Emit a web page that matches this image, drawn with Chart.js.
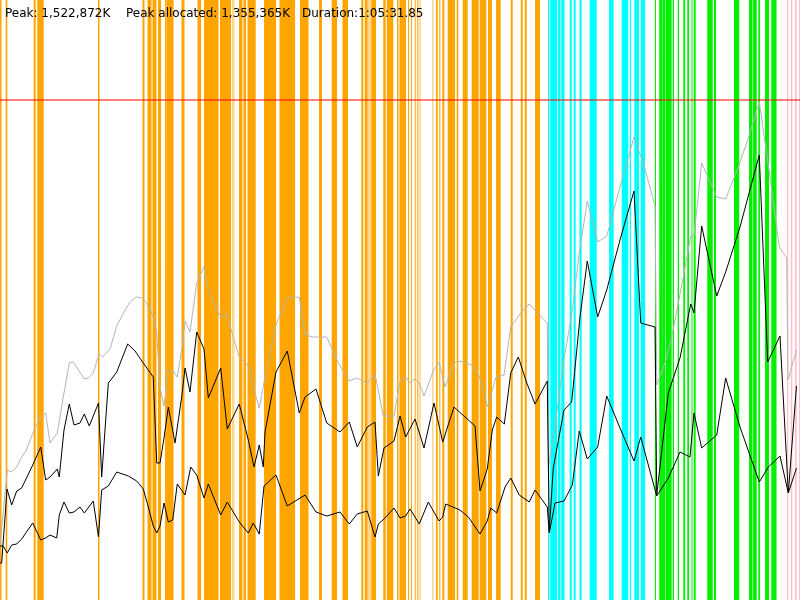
<!DOCTYPE html>
<html>
<head>
<meta charset="utf-8">
<script src="https://cdn.jsdelivr.net/npm/chart.js@4.4.1/dist/chart.umd.min.js"></script>
<style>
html,body{margin:0;padding:0;background:#ffffff;}
#wrap{position:relative;width:800px;height:600px;overflow:hidden;}
#c{position:absolute;left:0;top:0;}
#title{position:absolute;left:0;top:6px;width:800px;height:14px;font-family:"DejaVu Sans",sans-serif;font-size:12px;line-height:14px;color:#000;white-space:pre;pointer-events:none;}
#title span{position:absolute;top:0;}
</style>
</head>
<body>
<div id="wrap">
  <canvas id="c" width="800" height="600"></canvas>
  <div id="title"></div>
</div>
<script>
// ---- header texts ----
const headerTexts = ["Peak: 1,522,872K", "Peak allocated: 1,355,365K", "Duration:1:05:31.85"];

// x = % of run duration, y = % of peak memory (1,522,872K = 100)
const peakLimit = 100;

// event stripes: [start %, end %] of run duration
const orangeEvents = [[0,0.19],[0.71,0.91],[4.21,4.46],[4.66,5.46],[12.25,12.44],[17.81,18.06],[18.44,18.94],[19.06,19.56],[19.75,20.13],[20.63,20.75],[20.81,21.69],[22.69,23.06],[24.69,25.13],[25.5,27.31],[27.5,28.88],[29.88,30.31],[30.44,30.75],[30.94,31.96],[33.0,34.5],[34.94,36.88],[37.5,38.56],[39.88,40.25],[41.46,42.13],[42.81,43.5],[45.16,45.41],[45.59,45.96],[46.41,47.0],[47.91,48.21],[48.34,49.16],[49.63,49.81],[49.94,50.75],[51.0,51.13],[51.38,51.5],[51.84,51.96],[52.16,52.29],[54.5,54.71],[54.91,55.04],[55.29,55.54],[55.96,56.88],[57.09,57.29],[57.84,58.46],[58.96,59.84],[59.96,60.79],[61.0,61.5],[62.0,62.59],[63.84,64.09],[65.09,65.34],[65.59,65.84],[66.88,67.5]];
const paleOrangeEvents = [[29.0,29.31],[46.0,46.38],[52.38,52.59],[54.0,54.21]];
const cyanEvents = [[68.5,68.66],[68.79,69.63],[69.75,70.06],[70.16,70.56],[71.21,71.46],[71.71,71.96],[72.44,72.71],[73.71,74.59],[76.13,76.71],[77.71,78.53],[78.71,78.88],[79.29,79.88],[80.09,80.66]];
const greenEvents = [[81.84,82.0],[82.41,82.75],[82.81,83.19],[83.25,83.96],[84.09,84.25],[84.71,84.88],[85.41,85.63],[85.91,86.13],[86.44,86.56],[86.71,86.96],[88.41,89.09],[89.25,89.5],[91.75,92.41],[93.63,94.06],[94.13,94.59],[94.79,95.0],[95.63,96.13],[96.41,97.09]];
const pinkEvents = [[98.34,98.54],[98.84,99.04],[99.38,99.59],[99.88,100]];

// memory series: [time %, memory % of peak]
const peakSeries = [[0,10.8],[0.91,26.0],[1.46,25.6],[2.09,26.6],[2.71,28.6],[3.25,29.8],[4.16,33.6],[5.0,36.4],[5.71,37.4],[6.25,31.4],[7.16,33.4],[7.91,40.6],[8.66,47.4],[9.16,47.6],[9.88,45.8],[10.54,44.2],[11.04,44.4],[11.66,45.4],[12.38,49.2],[12.84,48.6],[13.75,50.2],[14.59,54.8],[15.63,58.0],[16.25,59.6],[17.0,60.6],[17.84,60.4],[18.54,58.8],[19.16,56.6],[19.59,53.6],[20.0,42.6],[20.5,38.8],[21.04,45.8],[21.66,45.8],[22.16,44.6],[22.71,50.0],[23.13,55.8],[23.75,53.6],[24.59,63.4],[25.5,66.6],[25.91,62.6],[26.88,59.0],[27.59,56.6],[28.34,57.2],[29.16,52.6],[29.91,48.6],[30.84,47.2],[31.16,46.6],[31.66,42.6],[32.41,38.4],[33.13,44.6],[34.5,55.0],[35.91,60.4],[37.41,60.6],[38.13,53.0],[39.16,52.6],[40.84,52.6],[42.29,47.4],[43.66,43.8],[44.59,44.4],[45.91,43.4],[46.88,45.2],[47.91,36.8],[49.25,36.8],[50.0,43.8],[50.71,44.6],[51.25,43.4],[51.88,44.2],[52.41,43.4],[53.0,40.8],[54.25,46.2],[54.88,47.6],[55.63,42.6],[56.75,47.4],[57.5,47.8],[58.96,47.0],[59.91,44.8],[60.96,38.6],[62.0,44.6],[63.0,45.0],[63.84,54.6],[65.09,57.4],[66.13,59.2],[68.41,55.4],[68.54,26.4],[69.59,37.4],[70.41,47.4],[71.46,57.0],[72.41,69.4],[73.41,79.8],[74.71,71.6],[75.84,72.8],[77.5,82.6],[79.25,92.6],[80.41,87.4],[81.88,78.8],[82.09,43.0],[83.25,48.0],[84.09,53.6],[85.41,64.6],[86.34,72.8],[86.75,72.8],[87.71,87.4],[89.59,80.6],[90.71,80.2],[92.29,86.6],[93.54,92.4],[94.91,99.6],[96.25,84.6],[97.41,70.6],[98.34,68.4],[98.5,44.0],[99.56,50.0]];

const allocatedSeries = [[0,7.4],[0.21,7.4],[0.88,22.2],[1.46,19.0],[2.09,21.8],[2.71,22.4],[4.09,27.0],[5.09,30.6],[5.71,24.0],[6.25,24.6],[7.16,26.2],[7.41,24.6],[8.0,34.0],[8.66,39.2],[9.25,35.0],[10.0,35.4],[10.54,37.2],[11.16,34.8],[12.31,39.4],[12.71,24.6],[13.54,43.4],[13.75,43.8],[14.59,45.6],[15.96,51.2],[16.88,49.8],[17.91,47.4],[19.16,44.6],[19.59,27.4],[20.0,27.4],[20.5,32.4],[21.04,38.6],[21.88,31.4],[22.71,40.6],[23.13,46.4],[23.75,41.6],[24.59,53.6],[25.5,50.2],[26.04,40.4],[27.59,46.4],[28.41,34.2],[29.91,39.2],[31.04,32.0],[31.75,26.6],[32.41,31.0],[32.91,26.6],[33.13,33.6],[34.5,45.6],[35.91,49.8],[37.41,37.4],[38.13,40.6],[39.5,42.2],[40.84,35.4],[42.5,33.6],[43.66,35.6],[44.66,30.6],[45.91,34.6],[46.88,35.6],[47.29,24.8],[48.0,30.4],[49.25,31.8],[50.0,36.8],[50.71,32.6],[51.88,36.2],[53.0,30.4],[54.25,39.4],[55.34,31.6],[56.75,38.6],[59.38,34.8],[60.0,21.8],[60.91,26.2],[61.54,34.0],[62.09,36.6],[63.04,35.2],[63.84,45.4],[64.79,48.6],[65.84,43.4],[66.88,39.2],[68.41,43.8],[68.66,13.8],[69.16,26.4],[70.5,38.0],[71.46,39.6],[72.5,56.6],[73.41,67.8],[74.71,56.6],[75.84,62.0],[77.5,72.0],[79.25,81.8],[80.09,55.4],[81.88,54.6],[82.09,21.0],[83.54,41.4],[85.0,48.4],[86.34,59.2],[86.75,57.4],[87.71,74.8],[89.59,60.8],[90.71,65.6],[92.5,74.6],[94.91,89.0],[95.96,47.6],[97.5,52.8],[98.54,21.4],[99.56,42.8]];

const liveSeries = [[0,10.8],[0.38,10.8],[0.91,9.4],[1.46,11.0],[2.09,11.2],[2.71,12.2],[4.09,15.4],[5.09,12.0],[5.71,12.4],[6.25,13.0],[7.09,12.4],[7.41,17.0],[8.0,19.6],[8.66,17.4],[9.25,17.6],[10.0,18.6],[10.54,17.4],[11.66,19.8],[12.31,12.6],[12.71,22.0],[13.54,22.8],[14.59,25.6],[16.04,24.8],[17.09,23.8],[17.91,22.2],[18.54,18.6],[19.16,14.8],[19.59,13.4],[20.0,14.8],[20.5,19.4],[21.04,15.6],[21.59,16.0],[22.16,23.2],[23.13,21.0],[23.84,26.6],[24.59,25.0],[25.5,20.4],[26.04,23.2],[27.59,17.0],[28.41,19.6],[29.91,15.6],[31.04,13.4],[31.66,15.4],[32.41,13.2],[33.0,22.8],[34.5,25.0],[35.91,18.8],[38.13,21.0],[39.5,17.6],[40.84,16.8],[42.5,17.6],[43.66,15.2],[44.66,17.2],[45.91,17.8],[46.88,12.6],[47.29,15.2],[48.0,16.2],[49.25,18.4],[50.0,16.4],[50.71,16.8],[51.25,18.2],[52.41,15.2],[53.54,19.6],[54.88,15.8],[55.34,16.6],[55.71,19.2],[57.5,18.0],[58.54,16.6],[60.0,13.2],[60.91,15.8],[61.34,18.4],[62.09,17.4],[63.13,22.6],[63.84,24.4],[64.91,21.0],[66.16,19.6],[66.88,22.0],[68.41,18.6],[68.66,13.4],[69.38,19.4],[70.5,19.8],[71.54,23.0],[72.41,33.8],[73.41,28.2],[74.71,30.6],[75.84,40.8],[77.5,34.4],[79.25,27.8],[80.09,32.6],[82.09,20.8],[83.54,24.4],[85.0,29.6],[86.25,28.6],[86.75,37.4],[87.71,30.4],[89.59,33.0],[90.71,44.4],[92.5,34.6],[94.91,23.6],[96.04,26.6],[97.5,28.8],[98.54,21.4],[99.56,26.4]];

// ---- axis ranges ----
const X_MIN = 0, X_MAX = 100, Y_MIN = 0, Y_MAX = 120;

// header
const title = document.getElementById('title');
const headerLeft = [5, 126, 302];
headerTexts.forEach((t, i) => {
  const s = document.createElement('span');
  s.textContent = t;
  s.style.left = headerLeft[i] + 'px';
  title.appendChild(s);
});

function toPoints(series) { return series.map(p => ({x: p[0], y: p[1]})); }
function stripePoints(events) {
  const pts = [];
  events.forEach(e => {
    pts.push({x: e[0], y: Y_MIN}, {x: e[0], y: Y_MAX}, {x: e[1], y: Y_MAX}, {x: e[1], y: Y_MIN});
  });
  return pts;
}
function stripeDataset(events, color, order) {
  return {
    label: 'events', data: stripePoints(events), borderWidth: 0, borderColor: 'rgba(0,0,0,0)',
    backgroundColor: color, fill: 'origin', pointRadius: 0, tension: 0, order: order
  };
}
function lineDataset(series, color, order) {
  return {
    label: 'mem', data: toPoints(series), borderColor: color, borderWidth: 1, fill: false,
    pointRadius: 0, tension: 0, order: order
  };
}

new Chart(document.getElementById('c'), {
  type: 'line',
  data: {
    datasets: [
      lineDataset(liveSeries, '#000000', 1),
      lineDataset(allocatedSeries, '#000000', 2),
      lineDataset(peakSeries, '#b4b4b4', 3),
      {
        label: 'limit', data: [{x: X_MIN, y: peakLimit}, {x: X_MAX, y: peakLimit}],
        borderColor: 'rgba(255,0,0,0.5)', borderWidth: 2, fill: false, pointRadius: 0, order: 4
      },
      stripeDataset(orangeEvents, '#ffa500', 10),
      stripeDataset(paleOrangeEvents, 'rgba(255,165,0,0.45)', 11),
      stripeDataset(cyanEvents, '#00ffff', 12),
      stripeDataset(greenEvents, '#00f000', 13),
      stripeDataset(pinkEvents, '#ffc0cb', 14)
    ]
  },
  options: {
    responsive: false,
    animation: false,
    devicePixelRatio: 1,
    layout: {padding: 0},
    plugins: {legend: {display: false}, tooltip: {enabled: false}, title: {display: false}},
    elements: {line: {capBezierPoints: false}},
    scales: {
      x: {type: 'linear', min: X_MIN, max: X_MAX, display: false},
      y: {type: 'linear', min: Y_MIN, max: Y_MAX, display: false}
    }
  }
});
</script>
</body>
</html>
